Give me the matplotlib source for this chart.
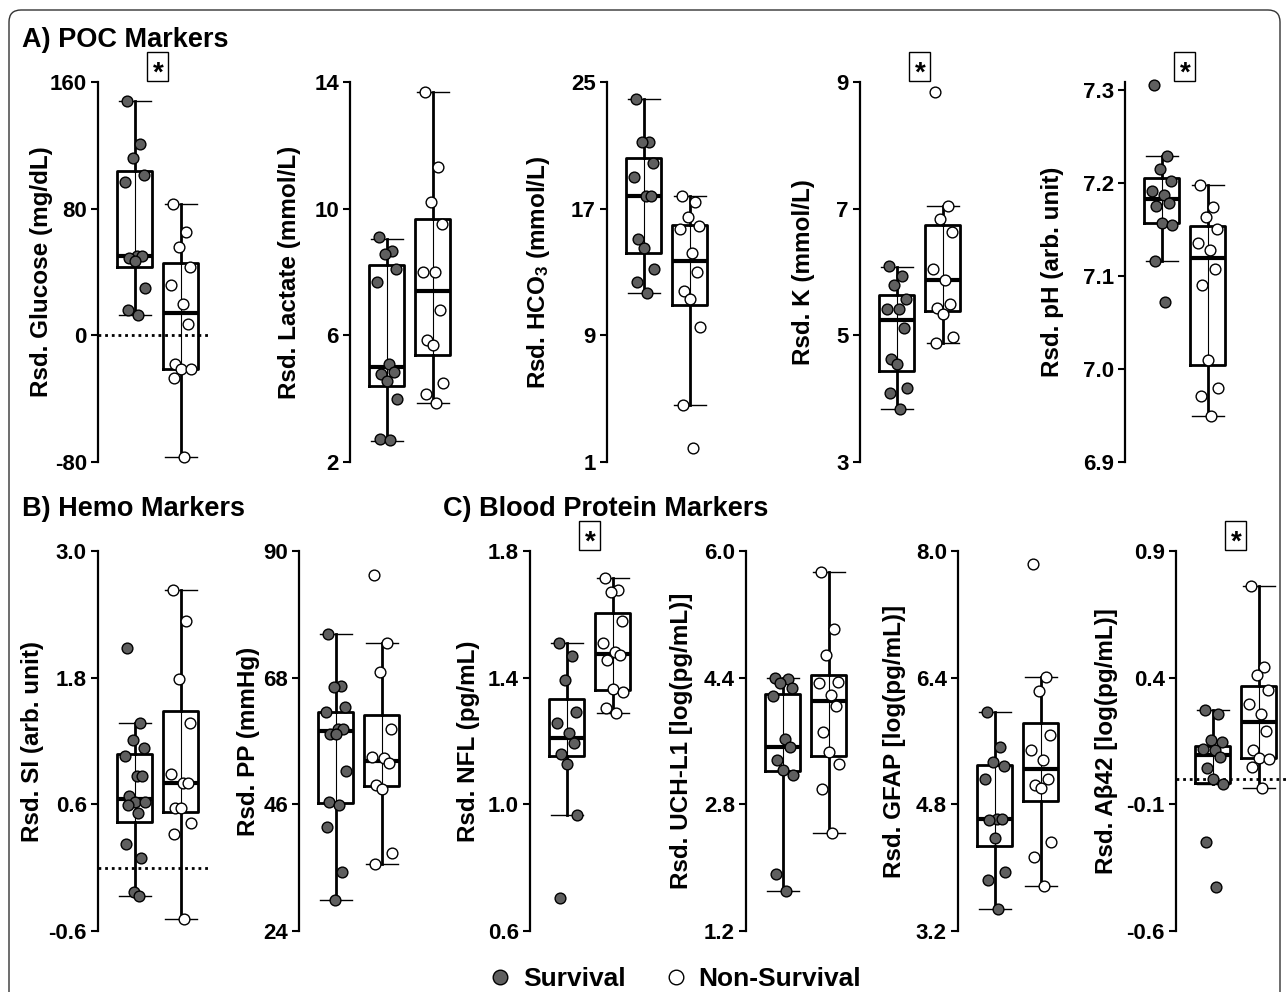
import matplotlib
matplotlib.use("Agg")
import matplotlib.pyplot as plt
from matplotlib.lines import Line2D
from matplotlib.patches import FancyBboxPatch, Rectangle
from matplotlib.transforms import IdentityTransform

plt.rcParams['font.family'] = ['Liberation Sans', 'DejaVu Sans']
plt.rcParams['font.weight'] = 'bold'
plt.rcParams['axes.unicode_minus'] = False
plt.rcParams['mathtext.fontset'] = 'custom'
plt.rcParams['mathtext.rm'] = 'Liberation Sans:bold'
plt.rcParams['mathtext.it'] = 'Liberation Sans:bold'
plt.rcParams['mathtext.bf'] = 'Liberation Sans:bold'
plt.rcParams['mathtext.default'] = 'rm'

# ---------------- data ----------------
# box stats: [whisker low, q1, median, q3, whisker high]
glucose_surv = [148, 121, 112, 101, 97, 50, 50, 49, 47, 30, 16, 13]
glucose_nonsurv = [83, 65, 56, 43, 32, 20, 7, -18, -21, -21, -27, -77]
glucose_box_surv = [13, 43, 50, 104, 148]
glucose_box_nonsurv = [-77, -21, 14, 46, 83]
glucose_ticks = ['-80', '0', '80', '160']

lactate_surv = [9.09, 8.67, 8.56, 8.09, 7.67, 5.1, 4.84, 4.78, 4.57, 4.0, 2.73, 2.68]
lactate_nonsurv = [13.69, 11.31, 10.2, 9.5, 8.0, 8.0, 6.81, 5.85, 5.7, 4.49, 4.15, 3.87]
lactate_box_surv = [2.66, 4.41, 5.0, 8.22, 9.05]
lactate_box_nonsurv = [3.87, 5.39, 7.41, 9.68, 13.69]
lactate_ticks = ['2', '6', '10', '14']

hco3_surv = [23.9, 21.2, 21.2, 19.9, 19.0, 17.8, 17.8, 15.1, 14.5, 13.2, 12.4, 11.7]
hco3_nonsurv = [17.8, 17.4, 16.5, 15.9, 15.7, 14.2, 13.0, 11.8, 11.3, 9.5, 4.6, 1.9]
hco3_box_surv = [11.7, 14.2, 17.8, 20.2, 23.9]
hco3_box_nonsurv = [4.6, 10.9, 13.7, 16.0, 17.8]
hco3_ticks = ['1', '9', '17', '25']

k_surv = [6.09, 5.94, 5.79, 5.58, 5.41, 5.41, 5.12, 4.62, 4.54, 4.17, 4.09, 3.83]
k_nonsurv = [8.84, 7.04, 6.83, 6.63, 6.05, 5.88, 5.49, 5.43, 5.34, 4.98, 4.88]
k_box_surv = [3.83, 4.44, 5.24, 5.63, 6.08]
k_box_nonsurv = [4.88, 5.38, 5.87, 6.74, 7.04]
k_ticks = ['3', '5', '7', '9']

ph_surv = [7.305, 7.229, 7.215, 7.202, 7.191, 7.187, 7.178, 7.175, 7.157, 7.155, 7.116, 7.072]
ph_nonsurv = [7.198, 7.174, 7.163, 7.151, 7.136, 7.128, 7.108, 7.090, 7.010, 6.980, 6.971, 6.949]
ph_box_surv = [7.116, 7.157, 7.183, 7.205, 7.229]
ph_box_nonsurv = [6.949, 7.004, 7.119, 7.154, 7.198]
ph_ticks = ['6.9', '7.0', '7.1', '7.2', '7.3']

si_surv = [2.08, 1.37, 1.21, 1.13, 1.06, 0.87, 0.87, 0.68, 0.62, 0.62, 0.59, 0.52, 0.22, 0.09, -0.23, -0.27]
si_nonsurv = [2.63, 2.34, 1.79, 1.37, 0.89, 0.80, 0.80, 0.57, 0.57, 0.42, 0.32, -0.49]
si_box_surv = [-0.27, 0.43, 0.65, 1.08, 1.37]
si_box_nonsurv = [-0.49, 0.53, 0.80, 1.48, 2.63]
si_ticks = ['-0.6', '0.6', '1.8', '3.0']

pp_surv = [75.6, 66.5, 66.3, 62.9, 62.0, 59.1, 59.0, 58.3, 58.2, 51.8, 46.4, 45.8, 42.1, 34.2, 29.4]
pp_nonsurv = [85.8, 74.0, 69.0, 59.0, 54.2, 54.0, 53.1, 49.3, 48.7, 37.5, 35.7]
pp_box_surv = [29.4, 46.2, 58.7, 62.1, 75.6]
pp_box_nonsurv = [35.7, 49.1, 53.6, 61.6, 74.0]
pp_ticks = ['24', '46', '68', '90']

nfl_surv = [1.511, 1.467, 1.392, 1.291, 1.257, 1.225, 1.195, 1.16, 1.126, 0.965, 0.703]
nfl_nonsurv = [1.714, 1.677, 1.672, 1.58, 1.509, 1.48, 1.472, 1.455, 1.365, 1.355, 1.304, 1.289]
nfl_box_surv = [0.965, 1.152, 1.21, 1.333, 1.511]
nfl_box_nonsurv = [1.289, 1.36, 1.474, 1.604, 1.714]
nfl_ticks = ['0.6', '1.0', '1.4', '1.8']

uch_surv = [4.40, 4.38, 4.33, 4.27, 4.17, 3.62, 3.52, 3.36, 3.23, 3.17, 1.92, 1.71]
uch_nonsurv = [5.73, 5.01, 4.69, 4.35, 4.33, 4.18, 4.04, 3.71, 3.46, 3.31, 2.99, 2.44]
uch_box_surv = [1.71, 3.22, 3.53, 4.20, 4.40]
uch_box_nonsurv = [2.44, 3.41, 4.11, 4.43, 5.73]
uch_ticks = ['1.2', '2.8', '4.4', '6.0']

gfap_surv = [5.97, 5.53, 5.34, 5.29, 5.12, 4.61, 4.61, 4.60, 4.37, 3.95, 3.85, 3.48]
gfap_nonsurv = [7.84, 6.41, 6.23, 5.68, 5.49, 5.36, 5.12, 5.04, 5.01, 4.32, 4.14, 3.77]
gfap_box_surv = [3.48, 4.27, 4.61, 5.30, 5.97]
gfap_box_nonsurv = [3.77, 4.84, 5.24, 5.83, 6.41]
gfap_ticks = ['3.2', '4.8', '6.4', '8.0']

abeta_surv = [0.272, 0.256, 0.154, 0.145, 0.117, 0.114, 0.088, 0.042, 0.0, -0.02, -0.248, -0.425]
abeta_nonsurv = [0.762, 0.443, 0.41, 0.351, 0.296, 0.256, 0.191, 0.114, 0.081, 0.077, 0.046, -0.037]
abeta_box_surv = [-0.02, -0.017, 0.095, 0.13, 0.272]
abeta_box_nonsurv = [-0.037, 0.084, 0.224, 0.368, 0.762]
abeta_ticks = ['-0.6', '-0.1', '0.4', '0.9']

SURV_COLOR = '#5f5f5f'
W, H = 1287, 992
AX_W = 110.4  # px, 46 px per x unit over xlim (0.2, 2.6)
JITTER = [-0.18, 0.12, -0.05, 0.2, -0.22, 0.05, 0.16, -0.12, 0.0, 0.22, -0.15, 0.08, -0.2, 0.14, -0.02, 0.1]


def make_axes(fig, left_px, top_px, bottom_px):
    return fig.add_axes([left_px / W, 1 - bottom_px / H, AX_W / W, (bottom_px - top_px) / H])


def stats_dict(b):
    return dict(whislo=b[0], q1=b[1], med=b[2], q3=b[3], whishi=b[4], fliers=[])


def draw_panel(ax, surv, nonsurv, box_s, box_n, ticks, ylabel, label_px, ytop=None,
               star=False, zero_line=False):
    ax.set_xlim(0.2, 2.6)
    tick_vals = [float(t) for t in ticks]
    ax.set_ylim(tick_vals[0], ytop if ytop else tick_vals[-1])
    for s in ['top', 'right', 'bottom']:
        ax.spines[s].set_visible(False)
    ax.spines['left'].set_linewidth(1.6)
    ax.patch.set_alpha(0)

    if zero_line:
        ax.axhline(0, color='black', lw=2, ls=(0, (1, 1.4)), zorder=1)

    ax.bxp([stats_dict(box_s), stats_dict(box_n)], positions=[1, 2], widths=0.76,
           capwidths=0.7, showfliers=False, manage_ticks=False,
           boxprops=dict(color='black', lw=2),
           whiskerprops=dict(color='black', lw=2),
           capprops=dict(color='black', lw=1),
           medianprops=dict(color='black', lw=3))
    for pos, b in [(1, box_s), (2, box_n)]:
        ax.vlines(pos, b[1], b[3], color='black', lw=0.8, zorder=2)

    for pos, vals, fc in [(1, surv, SURV_COLOR), (2, nonsurv, 'white')]:
        xs = [pos + JITTER[i % len(JITTER)] for i in range(len(vals))]
        ax.scatter(xs, vals, s=60, c=fc, edgecolors='black', linewidths=1, zorder=4, clip_on=False)

    ax.set_xticks([])
    ax.set_yticks(tick_vals)
    ax.set_yticklabels(ticks)
    ax.tick_params(axis='y', length=5, width=1.5, pad=3, labelsize=16)
    ax.set_ylabel(ylabel, fontsize=17.5, fontweight='bold')
    ax.yaxis.set_label_coords(label_px / AX_W, 0.5)

    if star:
        fig = ax.figure
        cx = ax.transData.transform((1.5, 0))[0]
        top = ax.transAxes.transform((0, 1))[1]
        fig.add_artist(Rectangle((cx - 10.5, top + 1), 21, 29, transform=IdentityTransform(),
                                 fc='white', ec='black', lw=1))
        fig.text(cx, top + 1.5, '*', transform=IdentityTransform(), ha='center', va='baseline',
                 fontsize=20, fontweight='bold')


fig = plt.figure(figsize=(W / 100, H / 100), dpi=100)

border = FancyBboxPatch((0.09, -0.5), 12.71, 10.32, boxstyle='round,pad=0,rounding_size=0.12',
                        transform=fig.dpi_scale_trans, fc='none', ec='#333333', lw=1.0)
fig.patches.append(border)

# top row: POC markers
top, bot = 82, 462
ax = make_axes(fig, 98, top, bot)
draw_panel(ax, glucose_surv, glucose_nonsurv, glucose_box_surv, glucose_box_nonsurv,
           glucose_ticks, 'Rsd. Glucose (mg/dL)', -45, star=True, zero_line=True)
ax = make_axes(fig, 350, top, bot)
draw_panel(ax, lactate_surv, lactate_nonsurv, lactate_box_surv, lactate_box_nonsurv,
           lactate_ticks, 'Rsd. Lactate (mmol/L)', -49)
ax = make_axes(fig, 607, top, bot)
draw_panel(ax, hco3_surv, hco3_nonsurv, hco3_box_surv, hco3_box_nonsurv,
           hco3_ticks, r'Rsd. HCO$_3$ (mmol/L)', -55)
ax = make_axes(fig, 860, top, bot)
draw_panel(ax, k_surv, k_nonsurv, k_box_surv, k_box_nonsurv,
           k_ticks, 'Rsd. K (mmol/L)', -45, star=True)
ax = make_axes(fig, 1125, top, bot)
draw_panel(ax, ph_surv, ph_nonsurv, ph_box_surv, ph_box_nonsurv,
           ph_ticks, 'Rsd. pH (arb. unit)', -61, ytop=7.3086, star=True)

# bottom row: hemo + blood protein markers
top, bot = 551, 931
ax = make_axes(fig, 98, top, bot)
draw_panel(ax, si_surv, si_nonsurv, si_box_surv, si_box_nonsurv,
           si_ticks, 'Rsd. SI (arb. unit)', -54, zero_line=True)
ax = make_axes(fig, 299, top, bot)
draw_panel(ax, pp_surv, pp_nonsurv, pp_box_surv, pp_box_nonsurv,
           pp_ticks, 'Rsd. PP (mmHg)', -39)
ax = make_axes(fig, 530, top, bot)
draw_panel(ax, nfl_surv, nfl_nonsurv, nfl_box_surv, nfl_box_nonsurv,
           nfl_ticks, 'Rsd. NFL (pg/mL)', -50, star=True)
ax = make_axes(fig, 746, top, bot)
draw_panel(ax, uch_surv, uch_nonsurv, uch_box_surv, uch_box_nonsurv,
           uch_ticks, 'Rsd. UCH-L1 [log(pg/mL)]', -53)
ax = make_axes(fig, 958, top, bot)
draw_panel(ax, gfap_surv, gfap_nonsurv, gfap_box_surv, gfap_box_nonsurv,
           gfap_ticks, 'Rsd. GFAP [log(pg/mL)]', -52)
ax = make_axes(fig, 1176, top, bot)
draw_panel(ax, abeta_surv, abeta_nonsurv, abeta_box_surv, abeta_box_nonsurv,
           abeta_ticks, 'Rsd. Aβ42 [log(pg/mL)]', -58, star=True, zero_line=True)

# section titles
fig.text(22 / W, 1 - 47 / H, 'A) POC Markers', fontsize=19.5, fontweight='bold', va='baseline')
fig.text(22 / W, 1 - 516 / H, 'B) Hemo Markers', fontsize=19.5, fontweight='bold', va='baseline')
fig.text(443 / W, 1 - 516 / H, 'C) Blood Protein Markers', fontsize=19.5, fontweight='bold', va='baseline')

# legend
handles = [Line2D([], [], ls='none', marker='o', ms=10.5, mfc=SURV_COLOR, mec='black', mew=1),
           Line2D([], [], ls='none', marker='o', ms=10.5, mfc='white', mec='black', mew=1)]
fig.legend(handles, ['Survival', 'Non-Survival'], loc='center', bbox_to_anchor=(674 / W, 1 - 979 / H),
           ncol=2, frameon=False, fontsize=19, handletextpad=0.35, columnspacing=1.4,
           handlelength=1.0, borderpad=0, borderaxespad=0)

fig.savefig('out.png', dpi=100)
